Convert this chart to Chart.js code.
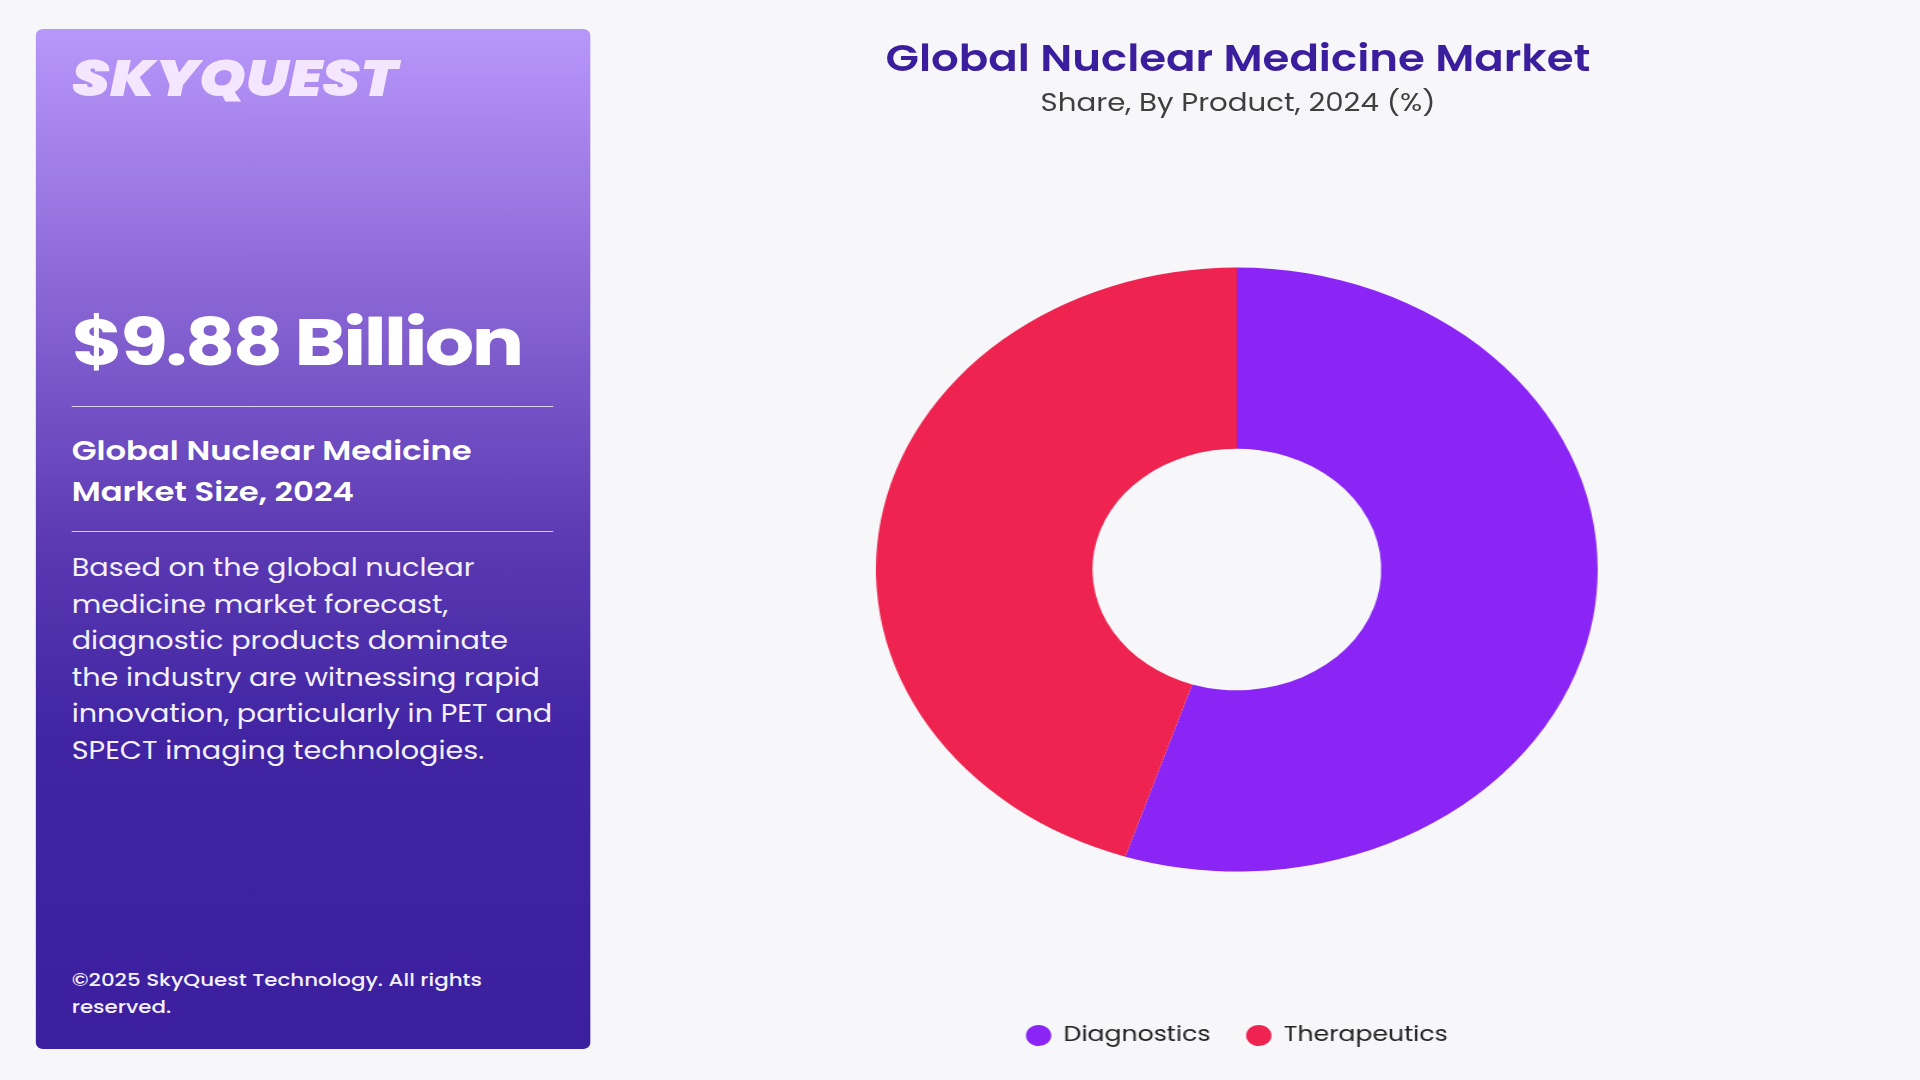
<!DOCTYPE html>
<html>
<head>
<meta charset="utf-8">
<title>Global Nuclear Medicine Market</title>
<script src="https://cdn.jsdelivr.net/npm/chart.js@4"></script>
<style>
  html, body { margin: 0; padding: 0; background: #f7f7fa; overflow: hidden; }
  body { width: 1920px; height: 1080px; }
  /* the reference is stretched sideways, so the whole page is laid out narrow and scaled */
  #page {
    position: absolute; left: 0; top: 0;
    width: 1607px; height: 1080px;
    transform: scaleX(1.195); transform-origin: 0 0;
    font-family: 'Poppins', 'Inter', sans-serif;
  }
  .panel {
    position: absolute; left: 30px; top: 29px; width: 464px; height: 1020px;
    border-radius: 6px;
    background: linear-gradient(180deg, #b897fa 0%, #8c68d6 25%, #5b3ab3 50%, #4024a2 70%, #3c1f9e 100%);
    color: #fff;
  }
  .panel > * { position: absolute; left: 30px; margin: 0; white-space: nowrap; }
  .logo { top: 25px; font-size: 50px; line-height: 50px; font-weight: 900; font-style: italic; color: #f5e6ff; letter-spacing: 0; }
  .value { top: 281px; font-size: 65px; line-height: 65px; font-weight: 700; letter-spacing: -2.1px; }
  .rule { width: 403px; height: 0; border-top: 1.5px solid rgba(255,255,255,0.75); }
  .heading { top: 401px; font-size: 27px; line-height: 41px; font-weight: 600; }
  .desc { top: 521px; font-size: 24px; line-height: 36.6px; font-weight: 400; color: #f3f0ff; }
  .foot { top: 938px; font-size: 17.9px; line-height: 26.5px; font-weight: 500; color: #f3f0ff; }
  .title {
    position: absolute; left: 636px; width: 800px; top: 39px; text-align: center;
    font-size: 36.4px; line-height: 40px; font-weight: 600; color: #3b1e9e; margin: 0;
  }
  .subtitle {
    position: absolute; left: 636px; width: 800px; top: 89px; text-align: center;
    font-size: 24.5px; line-height: 28px; font-weight: 400; color: #3f3f3f; margin: 0;
  }
  .chart-box { position: absolute; left: 733px; top: 144px; width: 604px; height: 912px; }
</style>
</head>
<body>
<div id="page">
  <div class="panel">
    <div class="logo">SKYQUEST</div>
    <div class="value">$9.88 Billion</div>
    <div class="rule" style="top:377px"></div>
    <div class="heading">Global Nuclear Medicine<br>Market Size, 2024</div>
    <div class="rule" style="top:502px"></div>
    <div class="desc">Based on the global nuclear<br>medicine market forecast,<br>diagnostic products dominate<br>the industry are witnessing rapid<br>innovation, particularly in PET and<br>SPECT imaging technologies.</div>
    <div class="foot">©2025 SkyQuest Technology. All rights<br>reserved.</div>
  </div>

  <h1 class="title">Global Nuclear Medicine Market</h1>
  <p class="subtitle">Share, By Product, 2024 (%)</p>

  <div class="chart-box"><canvas id="shareChart"></canvas></div>
</div>

<script>
  const productLabels = ['Diagnostics', 'Therapeutics'];
  const productShares = [55, 45];
  const productColors = ['#8a25f5', '#ef2350'];

  function initShareChart() {
    const ctx = document.getElementById('shareChart');
    if (!ctx || typeof Chart === 'undefined') return;

    return new Chart(ctx, {
      type: 'doughnut',
      data: {
        labels: productLabels,
        datasets: [{
          data: productShares,
          backgroundColor: productColors,
          borderWidth: 0,
          hoverOffset: 0
        }]
      },
      options: {
        responsive: true,
        maintainAspectRatio: false,
        animation: false,
        cutout: '40%',
        layout: { padding: 0 },
        plugins: {
          legend: {
            position: 'bottom',
            labels: {
              usePointStyle: true,
              pointStyle: 'circle',
              boxHeight: 15,
              padding: 30,
              color: '#222',
              font: { family: "'Poppins', 'Inter', sans-serif", size: 21 }
            }
          },
          tooltip: { enabled: false }
        }
      }
    });
  }

  document.addEventListener('DOMContentLoaded', () => initShareChart());
</script>
</body>
</html>
